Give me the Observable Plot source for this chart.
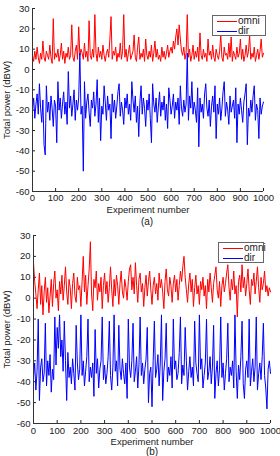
<!DOCTYPE html>
<html><head><meta charset="utf-8">
<script src="https://cdn.jsdelivr.net/npm/d3@7"></script>
<script src="https://cdn.jsdelivr.net/npm/@observablehq/plot@0.6"></script>
<style>
body{margin:0;background:#fff;font-family:"Liberation Sans",Arial,sans-serif;}
#wrap{position:relative;width:280px;height:456px;overflow:hidden;}
.panel{position:absolute;left:0;}
.legend{position:absolute;border:1px solid #666;background:#fff;font-size:10px;color:#222;box-sizing:border-box;}
.legend .ln{position:absolute;height:0;}
.legend .tx{position:absolute;line-height:10px;}
.cap{position:absolute;font-size:10px;line-height:10px;color:#222;transform:translate(-50%,-50%);}
</style></head><body><div id="wrap"></div>
<script>
const xTicks = [0,100,200,300,400,500,600,700,800,900,1000];
const yTicks = [-60,-50,-40,-30,-20,-10,0,10,20,30];
const seriesNames = ["omni","dir"];
const seriesColors = ["#ff0000","#0000ff"];

// panel (a): sampled every ~5 experiments
const omniA = [
7,4,9,5,11,6,3,8,5,14,6,4,9,7,5,12,6,3,25,5,
8,6,10,4,7,13,5,9,3,8,6,11,5,7,22,6,4,9,12,5,
21,7,10,8,5,13,6,9,4,24,7,5,10,6,27,8,4,11,6,9,
5,12,7,4,8,10,6,15,26,5,9,7,11,4,8,6,13,5,9,27,
6,10,4,8,12,5,7,9,17,6,4,11,16,5,8,6,10,4,15,7,
5,9,6,12,4,8,14,6,10,5,7,4,11,6,9,5,8,12,6,9,
11,8,14,10,16,20,12,22,15,9,7,11,5,8,27,6,10,4,7,12,
5,9,6,11,4,18,7,5,10,6,8,4,15,7,9,5,12,6,4,10,
7,5,9,17,6,4,11,7,8,5,13,6,16,4,9,7,5,11,6,8,
15,5,10,4,7,12,6,9,17,5,8,6,11,4,7,10,5,9,15,6,
8];
const dirA = [
-20,-14,-24,-17,-12,-22,-7,-19,-26,-15,-37,-42,-8,-21,-16,-25,-13,-19,-28,-15,
-18,-36,-6,-20,-14,-24,-17,-11,-22,-16,-27,-1,-19,-13,-23,-17,-10,-25,-15,-20,
-14,8,-22,-18,-50,-6,-24,-16,-12,-21,-28,-15,-19,-11,-23,-17,-5,-26,-14,-35,
-18,-22,-8,-16,-25,-13,-20,-17,-34,-12,-21,-15,-24,-18,-11,-7,-23,-16,-20,-27,
-14,-19,-12,-22,-17,-25,-6,-15,-21,-13,-26,-18,-33,-16,-8,-22,-14,-19,-28,-15,
-20,-12,-24,-36,-7,-17,-21,-14,-26,-18,-11,-23,-16,-20,-13,-25,-17,-29,-9,-15,
-22,-18,-12,-24,-16,-20,-14,-27,-8,-19,-23,-15,-21,-17,8,-25,-13,-19,-6,-22,
-16,-20,-26,-9,-38,-14,-21,-17,-24,-12,-7,-19,-23,-15,-28,-18,-13,-21,-8,-34,
-17,-22,-14,-25,-19,-11,-6,-23,-16,-20,-27,-13,-21,-18,-15,-24,-9,-36,-17,-22,
-14,-20,-26,-16,-12,-7,-37,-19,-23,-15,-21,-13,-8,-25,-17,-20,-34,-14,-22,-18,
-16];
// panel (b)
const omniB = [
17,8,2,-5,4,12,-3,6,-8,3,10,-2,5,-7,1,9,-4,7,13,0,
4,-6,8,2,11,-1,6,15,3,-3,9,5,-5,7,12,1,-2,10,4,6,
-4,8,20,3,11,-3,6,14,27,2,-6,9,5,13,-1,7,3,10,-5,6,
12,2,8,-2,5,15,4,-4,9,1,11,6,-3,7,13,3,0,9,5,-1,
8,14,16,4,10,2,17,6,-2,9,12,3,7,-4,5,11,1,8,13,4,
-3,6,10,2,7,-1,12,5,9,3,-5,8,14,4,1,10,6,-2,7,11,
3,9,-1,6,13,8,15,20,10,4,-2,7,12,3,9,-4,5,11,2,6,
-3,8,4,10,1,6,-5,9,3,12,5,-2,7,11,15,4,0,8,-4,6,
10,3,7,12,16,5,-1,9,4,13,2,6,-9,8,11,3,16,5,10,1,
7,14,4,-3,9,6,12,2,8,15,5,-2,10,4,7,13,3,6,1,5,
3];
const dirB = [
-38,-31,-44,-35,-10,-49,-33,-29,-40,-36,-12,-42,-30,-37,-27,-45,-34,-39,-9,-32,
-14,-24,-8,-28,-20,-35,-11,-30,-49,-26,-38,-33,-41,-29,-36,-44,-13,-31,-39,-34,
-8,-37,-30,-42,-35,-28,-10,-40,-33,-38,-31,-47,-15,-36,-29,-43,-34,-30,-9,-39,
-32,-41,-36,-28,-11,-37,-44,-33,-8,-35,-30,-42,-13,-34,-39,-29,-36,-41,-31,-48,
-10,-33,-38,-30,-12,-40,-35,-28,-43,-32,-9,-37,-31,-41,-34,-29,-14,-50,-36,-33,
-52,-30,-11,-38,-34,-27,-42,-31,-8,-49,-35,-29,-12,-40,-33,-37,-28,-43,-10,-34,
-30,-39,-36,-26,-9,-41,-32,-37,-14,-30,-44,-35,-28,-38,-33,-42,-11,-31,-36,-40,
-8,-34,-29,-43,-37,-31,-10,-39,-35,-28,-41,-33,-13,-48,-36,-30,-42,-34,-9,-38,
-31,-44,-36,-29,-12,-40,-33,-37,-30,-43,-8,-35,-48,-32,-39,-28,-11,-41,-48,-34,
-30,-38,-10,-42,-35,-29,-40,-33,-9,-44,-36,-31,-39,-28,-12,-37,-43,-53,-34,-30,
-36];

const wrap = document.getElementById("wrap");

function toRows(arr){ return arr.map((v,i)=>({x: i*1000/(arr.length-1), y: v})); }

function panel(omni, dir, o){
  const p = Plot.plot({
    width: 280, height: o.h,
    marginTop: o.mt, marginBottom: o.mb, marginLeft: o.ml, marginRight: o.mr,
    style: {fontFamily: "'Liberation Sans', Arial, sans-serif", fontSize: "9.5px", color: "#222", background: "transparent", overflow: "visible"},
    x: {domain: [0,1000], ticks: xTicks, tickFormat: d=>String(d), label: "Experiment number", labelAnchor: "center", labelOffset: o.xlo, tickSize: -3, tickPadding: o.xtp, labelArrow: "none"},
    y: {domain: [-60,30], ticks: yTicks, tickFormat: d=>String(d), label: "Total power (dBW)", labelAnchor: "center", labelOffset: o.ylo, tickSize: -3, tickPadding: 6, labelArrow: "none"},
    marks: [
      Plot.line(toRows(omni), {x: "x", y: "y", stroke: seriesColors[0], strokeWidth: 1}),
      Plot.line(toRows(dir), {x: "x", y: "y", stroke: seriesColors[1], strokeWidth: 1}),
      Plot.ruleX([0], {stroke: "#333"}),
      Plot.ruleY([-60], {stroke: "#333"})
    ]
  });
  p.classList.add("panel");
  p.style.top = o.top + "px";
  wrap.appendChild(p);
  const lg = document.createElement("div");
  lg.className = "legend";
  Object.assign(lg.style, {left: o.lg[0]+"px", top: o.lg[1]+"px", width: o.lg[2]+"px", height: o.lg[3]+"px"});
  seriesNames.forEach((n,i)=>{
    const ln = document.createElement("div");
    ln.className = "ln";
    Object.assign(ln.style, {left: o.lgl[0]+"px", width: o.lgl[1]+"px", top: (o.lgr[i])+"px", borderTop: "1px solid " + seriesColors[i]});
    const tx = document.createElement("div");
    tx.className = "tx";
    tx.textContent = n;
    Object.assign(tx.style, {left: (o.lgl[0]+o.lgl[1]+1)+"px", top: (o.lgr[i]-5.5)+"px"});
    lg.appendChild(ln); lg.appendChild(tx);
  });
  wrap.appendChild(lg);
  const cap = document.createElement("div");
  cap.className = "cap";
  cap.textContent = o.cap;
  Object.assign(cap.style, {left: o.capxy[0]+"px", top: o.capxy[1]+"px"});
  wrap.appendChild(cap);
}

panel(omniA, dirA, {top: 0, h: 226, mt: 8, mb: 35, ml: 32, mr: 17, xlo: 21, xtp: 6, ylo: 29,
  lg: [212, 15, 54, 21], lgl: [4, 20], lgr: [5, 15], cap: "(a)", capxy: [147, 221.5]});
panel(omniB, dirB, {top: 226, h: 230, mt: 9, mb: 33, ml: 33, mr: 10, xlo: 21, xtp: 7, ylo: 30,
  lg: [218, 242, 46, 21], lgl: [4, 20], lgr: [5, 15], cap: "(b)", capxy: [152, 451.5]});
</script></body></html>
